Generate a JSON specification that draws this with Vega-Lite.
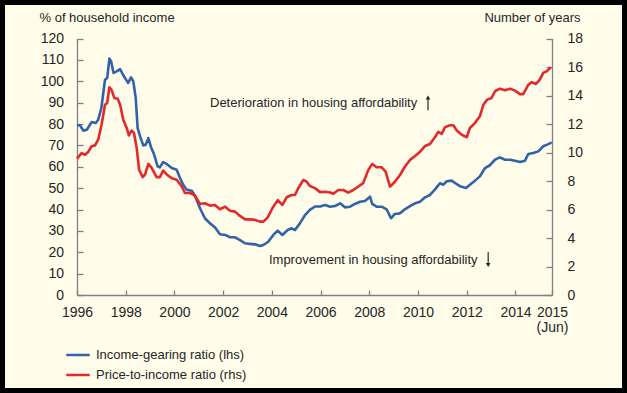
{
  "$schema": "https://vega.github.io/schema/vega-lite/v6.json",
  "width": 627,
  "height": 393,
  "autosize": {"type": "none"},
  "padding": 0,
  "background": "#fffcea",
  "config": {
    "view": {"fill": "#fffcea", "stroke": "#000000", "strokeWidth": 10},
    "font": "Liberation Sans",
    "axis": {
      "grid": false,
      "domainColor": "#808080",
      "tickColor": "#808080",
      "domainWidth": 1.3,
      "tickWidth": 1.3,
      "labelFont": "Liberation Sans",
      "labelFontSize": 14,
      "labelColor": "#262626",
      "titleFont": "Liberation Sans",
      "titleFontSize": 13,
      "titleFontWeight": "normal",
      "titleColor": "#262626"
    },
    "axisY": {"labelOverlap": false}
  },
  "datasets": {
    "d": [
      {"s":"lhs","t":1996.0,"v":79.4},{"s":"lhs","t":1996.12,"v":79.4},{"s":"lhs","t":1996.26,"v":76.9},{"s":"lhs","t":1996.4,"v":77.3},{"s":"lhs","t":1996.6,"v":80.9},{"s":"lhs","t":1996.77,"v":80.5},{"s":"lhs","t":1996.87,"v":82},{"s":"lhs","t":1997.0,"v":87.5},{"s":"lhs","t":1997.15,"v":100.7},{"s":"lhs","t":1997.24,"v":101.5},{"s":"lhs","t":1997.33,"v":110.6},{"s":"lhs","t":1997.4,"v":109.3},{"s":"lhs","t":1997.5,"v":103.9},{"s":"lhs","t":1997.63,"v":104.6},{"s":"lhs","t":1997.77,"v":105.7},{"s":"lhs","t":1997.9,"v":102.8},{"s":"lhs","t":1998.04,"v":100.3},{"s":"lhs","t":1998.1,"v":99.2},{"s":"lhs","t":1998.22,"v":101.8},{"s":"lhs","t":1998.31,"v":100},{"s":"lhs","t":1998.41,"v":92.2},{"s":"lhs","t":1998.49,"v":78.1},{"s":"lhs","t":1998.59,"v":74.2},{"s":"lhs","t":1998.72,"v":70},{"s":"lhs","t":1998.82,"v":70.3},{"s":"lhs","t":1998.93,"v":73.4},{"s":"lhs","t":1999.04,"v":69.1},{"s":"lhs","t":1999.17,"v":65.6},{"s":"lhs","t":1999.31,"v":60.2},{"s":"lhs","t":1999.4,"v":59.7},{"s":"lhs","t":1999.54,"v":62.2},{"s":"lhs","t":1999.68,"v":61.3},{"s":"lhs","t":1999.89,"v":59.4},{"s":"lhs","t":2000.09,"v":58.6},{"s":"lhs","t":2000.23,"v":54.7},{"s":"lhs","t":2000.36,"v":51.6},{"s":"lhs","t":2000.5,"v":49.3},{"s":"lhs","t":2000.71,"v":48.8},{"s":"lhs","t":2000.84,"v":46.5},{"s":"lhs","t":2001.05,"v":40.6},{"s":"lhs","t":2001.25,"v":35.9},{"s":"lhs","t":2001.46,"v":33.5},{"s":"lhs","t":2001.66,"v":31.7},{"s":"lhs","t":2001.87,"v":28.4},{"s":"lhs","t":2002.08,"v":28.1},{"s":"lhs","t":2002.28,"v":27},{"s":"lhs","t":2002.49,"v":27},{"s":"lhs","t":2002.69,"v":25.7},{"s":"lhs","t":2002.9,"v":24.2},{"s":"lhs","t":2003.1,"v":23.9},{"s":"lhs","t":2003.31,"v":23.7},{"s":"lhs","t":2003.51,"v":22.9},{"s":"lhs","t":2003.65,"v":23.4},{"s":"lhs","t":2003.85,"v":24.9},{"s":"lhs","t":2004.06,"v":28.1},{"s":"lhs","t":2004.24,"v":30.1},{"s":"lhs","t":2004.43,"v":28.1},{"s":"lhs","t":2004.65,"v":30.4},{"s":"lhs","t":2004.81,"v":31.2},{"s":"lhs","t":2004.95,"v":30.4},{"s":"lhs","t":2005.15,"v":33.5},{"s":"lhs","t":2005.36,"v":37.4},{"s":"lhs","t":2005.56,"v":39.8},{"s":"lhs","t":2005.77,"v":41.4},{"s":"lhs","t":2005.98,"v":41.4},{"s":"lhs","t":2006.18,"v":42.1},{"s":"lhs","t":2006.39,"v":41.3},{"s":"lhs","t":2006.59,"v":41.6},{"s":"lhs","t":2006.8,"v":42.9},{"s":"lhs","t":2007.0,"v":41},{"s":"lhs","t":2007.21,"v":41.3},{"s":"lhs","t":2007.41,"v":42.6},{"s":"lhs","t":2007.62,"v":43.6},{"s":"lhs","t":2007.82,"v":44},{"s":"lhs","t":2008.03,"v":46},{"s":"lhs","t":2008.12,"v":42.6},{"s":"lhs","t":2008.3,"v":41.3},{"s":"lhs","t":2008.51,"v":41.3},{"s":"lhs","t":2008.71,"v":40.1},{"s":"lhs","t":2008.89,"v":35.9},{"s":"lhs","t":2009.05,"v":37.9},{"s":"lhs","t":2009.26,"v":38.2},{"s":"lhs","t":2009.46,"v":40.1},{"s":"lhs","t":2009.67,"v":41.6},{"s":"lhs","t":2009.88,"v":42.9},{"s":"lhs","t":2010.08,"v":43.6},{"s":"lhs","t":2010.29,"v":45.7},{"s":"lhs","t":2010.49,"v":46.8},{"s":"lhs","t":2010.7,"v":49.4},{"s":"lhs","t":2010.9,"v":52.3},{"s":"lhs","t":2011.04,"v":51.6},{"s":"lhs","t":2011.18,"v":53.2},{"s":"lhs","t":2011.38,"v":53.5},{"s":"lhs","t":2011.52,"v":52.4},{"s":"lhs","t":2011.72,"v":50.9},{"s":"lhs","t":2011.97,"v":50.1},{"s":"lhs","t":2012.13,"v":51.6},{"s":"lhs","t":2012.34,"v":53.5},{"s":"lhs","t":2012.54,"v":55.5},{"s":"lhs","t":2012.75,"v":59.4},{"s":"lhs","t":2012.95,"v":60.7},{"s":"lhs","t":2013.16,"v":63.3},{"s":"lhs","t":2013.36,"v":64.4},{"s":"lhs","t":2013.57,"v":63.3},{"s":"lhs","t":2013.78,"v":63.3},{"s":"lhs","t":2013.98,"v":62.8},{"s":"lhs","t":2014.19,"v":62.2},{"s":"lhs","t":2014.39,"v":62.8},{"s":"lhs","t":2014.53,"v":66},{"s":"lhs","t":2014.73,"v":66.4},{"s":"lhs","t":2014.94,"v":67.2},{"s":"lhs","t":2015.14,"v":69.6},{"s":"lhs","t":2015.35,"v":70.6},{"s":"lhs","t":2015.49,"v":71.4},
      {"s":"rhs","t":1996.0,"v":9.57},{"s":"rhs","t":1996.19,"v":9.96},{"s":"rhs","t":1996.33,"v":9.84},{"s":"rhs","t":1996.46,"v":10.04},{"s":"rhs","t":1996.6,"v":10.44},{"s":"rhs","t":1996.74,"v":10.5},{"s":"rhs","t":1996.87,"v":10.9},{"s":"rhs","t":1997.01,"v":11.96},{"s":"rhs","t":1997.15,"v":13.35},{"s":"rhs","t":1997.24,"v":13.47},{"s":"rhs","t":1997.33,"v":14.58},{"s":"rhs","t":1997.42,"v":14.4},{"s":"rhs","t":1997.53,"v":13.83},{"s":"rhs","t":1997.67,"v":13.77},{"s":"rhs","t":1997.77,"v":13.35},{"s":"rhs","t":1997.9,"v":12.3},{"s":"rhs","t":1998.04,"v":11.72},{"s":"rhs","t":1998.13,"v":11.2},{"s":"rhs","t":1998.24,"v":11.54},{"s":"rhs","t":1998.34,"v":11.37},{"s":"rhs","t":1998.45,"v":10.32},{"s":"rhs","t":1998.55,"v":8.79},{"s":"rhs","t":1998.7,"v":8.27},{"s":"rhs","t":1998.79,"v":8.45},{"s":"rhs","t":1998.93,"v":9.2},{"s":"rhs","t":1999.07,"v":8.91},{"s":"rhs","t":1999.27,"v":8.27},{"s":"rhs","t":1999.4,"v":8.27},{"s":"rhs","t":1999.54,"v":8.73},{"s":"rhs","t":1999.72,"v":8.4},{"s":"rhs","t":1999.89,"v":8.2},{"s":"rhs","t":2000.09,"v":8.09},{"s":"rhs","t":2000.3,"v":7.62},{"s":"rhs","t":2000.43,"v":7.16},{"s":"rhs","t":2000.64,"v":7.16},{"s":"rhs","t":2000.84,"v":6.97},{"s":"rhs","t":2001.05,"v":6.39},{"s":"rhs","t":2001.25,"v":6.44},{"s":"rhs","t":2001.46,"v":6.27},{"s":"rhs","t":2001.66,"v":6.32},{"s":"rhs","t":2001.87,"v":6.02},{"s":"rhs","t":2002.08,"v":6.2},{"s":"rhs","t":2002.28,"v":5.91},{"s":"rhs","t":2002.49,"v":5.85},{"s":"rhs","t":2002.69,"v":5.55},{"s":"rhs","t":2002.9,"v":5.31},{"s":"rhs","t":2003.1,"v":5.31},{"s":"rhs","t":2003.31,"v":5.27},{"s":"rhs","t":2003.51,"v":5.15},{"s":"rhs","t":2003.65,"v":5.15},{"s":"rhs","t":2003.83,"v":5.45},{"s":"rhs","t":2004.02,"v":6.09},{"s":"rhs","t":2004.24,"v":6.66},{"s":"rhs","t":2004.43,"v":6.32},{"s":"rhs","t":2004.61,"v":6.86},{"s":"rhs","t":2004.81,"v":7.02},{"s":"rhs","t":2004.95,"v":7.02},{"s":"rhs","t":2005.08,"v":7.49},{"s":"rhs","t":2005.29,"v":8.07},{"s":"rhs","t":2005.43,"v":7.95},{"s":"rhs","t":2005.56,"v":7.65},{"s":"rhs","t":2005.77,"v":7.5},{"s":"rhs","t":2005.98,"v":7.22},{"s":"rhs","t":2006.18,"v":7.25},{"s":"rhs","t":2006.39,"v":7.19},{"s":"rhs","t":2006.52,"v":7.1},{"s":"rhs","t":2006.73,"v":7.37},{"s":"rhs","t":2006.93,"v":7.37},{"s":"rhs","t":2007.14,"v":7.19},{"s":"rhs","t":2007.34,"v":7.37},{"s":"rhs","t":2007.55,"v":7.61},{"s":"rhs","t":2007.75,"v":7.85},{"s":"rhs","t":2007.96,"v":8.78},{"s":"rhs","t":2008.12,"v":9.2},{"s":"rhs","t":2008.3,"v":8.96},{"s":"rhs","t":2008.51,"v":8.96},{"s":"rhs","t":2008.67,"v":8.66},{"s":"rhs","t":2008.85,"v":7.61},{"s":"rhs","t":2009.05,"v":7.95},{"s":"rhs","t":2009.26,"v":8.42},{"s":"rhs","t":2009.46,"v":9.0},{"s":"rhs","t":2009.67,"v":9.48},{"s":"rhs","t":2009.88,"v":9.75},{"s":"rhs","t":2010.08,"v":10.05},{"s":"rhs","t":2010.29,"v":10.46},{"s":"rhs","t":2010.49,"v":10.6},{"s":"rhs","t":2010.7,"v":11.09},{"s":"rhs","t":2010.83,"v":11.45},{"s":"rhs","t":2010.97,"v":11.3},{"s":"rhs","t":2011.11,"v":11.78},{"s":"rhs","t":2011.31,"v":11.91},{"s":"rhs","t":2011.45,"v":11.91},{"s":"rhs","t":2011.59,"v":11.54},{"s":"rhs","t":2011.79,"v":11.25},{"s":"rhs","t":2012.0,"v":11.07},{"s":"rhs","t":2012.13,"v":11.72},{"s":"rhs","t":2012.34,"v":12.08},{"s":"rhs","t":2012.54,"v":12.54},{"s":"rhs","t":2012.68,"v":13.35},{"s":"rhs","t":2012.84,"v":13.71},{"s":"rhs","t":2013.02,"v":13.83},{"s":"rhs","t":2013.16,"v":14.3},{"s":"rhs","t":2013.36,"v":14.48},{"s":"rhs","t":2013.57,"v":14.37},{"s":"rhs","t":2013.78,"v":14.48},{"s":"rhs","t":2013.98,"v":14.34},{"s":"rhs","t":2014.19,"v":14.1},{"s":"rhs","t":2014.32,"v":14.1},{"s":"rhs","t":2014.53,"v":14.76},{"s":"rhs","t":2014.67,"v":14.94},{"s":"rhs","t":2014.84,"v":14.81},{"s":"rhs","t":2015.0,"v":15.11},{"s":"rhs","t":2015.14,"v":15.59},{"s":"rhs","t":2015.28,"v":15.69},{"s":"rhs","t":2015.45,"v":15.98}
    ]
  },
  "data": {"name": "d"},
  "layer": [
    {
      "transform": [{"filter": "datum.s == 'lhs'"}],
      "mark": {"type": "line", "strokeWidth": 2.6, "strokeJoin": "round"},
      "encoding": {
        "x": {
          "field": "t", "type": "quantitative",
          "scale": {"domain": [1996, 2015.5], "range": [77, 552], "nice": false, "zero": false},
          "axis": {
            "orient": "bottom", "offset": -98, "title": null,
            "values": [1996,1997,1998,1999,2000,2001,2002,2003,2004,2005,2006,2007,2008,2009,2010,2011,2012,2013,2014,2015,2015.5],
            "tickSize": -5, "labelPadding": 15, "format": "d",
            "labelExpr": "datum.value == 2015.5 ? ['2015', '(Jun)'] : ((datum.value % 2 == 0 && datum.value < 2015) ? datum.label : '')",
            "labelFlush": false, "labelOverlap": false, "labelBound": false, "labelLineHeight": 15
          }
        },
        "y": {
          "field": "v", "type": "quantitative",
          "scale": {"domain": [0, 120], "range": [295, 38.5], "nice": false, "zero": false},
          "axis": {
            "orient": "left", "offset": -77,
            "values": [0,10,20,30,40,50,60,70,80,90,100,110,120],
            "tickSize": -6, "labelPadding": 19.5, "labelOverlap": false,
            "title": "% of household income", "titleX": -38, "titleY": 17,
            "titleAngle": 0, "titleAlign": "left", "titleBaseline": "middle"
          }
        },
        "color": {
          "field": "s", "type": "nominal",
          "scale": {"domain": ["lhs", "rhs"], "range": ["#3162ab", "#e4282b"]},
          "legend": {
            "orient": "none", "legendX": 65, "legendY": 342, "title": null,
            "direction": "vertical", "padding": 0,
            "symbolType": "stroke", "symbolSize": 550, "symbolStrokeWidth": 2.5,
            "labelFont": "Liberation Sans", "labelFontSize": 13, "labelColor": "#262626",
            "labelOffset": 5, "rowPadding": -4, "labelLimit": 300,
            "labelExpr": "datum.label == 'lhs' ? 'Income-gearing ratio (lhs)' : 'Price-to-income ratio (rhs)'"
          }
        }
      }
    },
    {
      "layer": [
        {
          "transform": [{"filter": "datum.s == 'rhs'"}],
          "mark": {"type": "line", "strokeWidth": 2.6, "strokeJoin": "round"},
          "encoding": {
            "x": {"field": "t", "type": "quantitative"},
            "y": {
              "field": "v", "type": "quantitative",
              "scale": {"domain": [0, 18], "range": [295, 38.5], "nice": false, "zero": false},
              "axis": {
                "orient": "right", "offset": -75,
                "values": [0,2,4,6,8,10,12,14,16,18],
                "tickSize": -6, "labelPadding": 21, "labelOverlap": false,
                "title": "Number of years", "titleX": 28, "titleY": 17,
                "titleAngle": 0, "titleAlign": "right", "titleBaseline": "middle"
              }
            },
            "color": {"field": "s", "type": "nominal"}
          }
        },
        {
          "data": {"values": [{"label": "Deterioration in housing affordability"}]},
          "mark": {"type": "text", "align": "left", "baseline": "middle", "font": "Liberation Sans", "fontSize": 13, "color": "#262626"},
          "encoding": {
            "x": {"datum": 2001.46, "type": "quantitative"},
            "y": {"datum": 13.5, "type": "quantitative"},
            "text": {"field": "label"}
          }
        },
        {
          "data": {"values": [{"label": "Improvement in housing affordability"}]},
          "mark": {"type": "text", "align": "left", "baseline": "middle", "font": "Liberation Sans", "fontSize": 13, "color": "#262626"},
          "encoding": {
            "x": {"datum": 2003.88, "type": "quantitative"},
            "y": {"datum": 2.43, "type": "quantitative"},
            "text": {"field": "label"}
          }
        },
        {
          "data": {"values": [{"arrow": "up"}]},
          "mark": {"type": "rule", "color": "#262626", "strokeWidth": 1.2},
          "encoding": {
            "x": {"datum": 2010.41, "type": "quantitative"},
            "y": {"datum": 12.97, "type": "quantitative"},
            "y2": {"datum": 13.87}
          }
        },
        {
          "data": {"values": [{"arrow": "up"}]},
          "mark": {"type": "point", "shape": "triangle-up", "filled": true, "size": 22, "color": "#262626", "opacity": 1},
          "encoding": {
            "x": {"datum": 2010.41, "type": "quantitative"},
            "y": {"datum": 13.86, "type": "quantitative"}
          }
        },
        {
          "data": {"values": [{"arrow": "down"}]},
          "mark": {"type": "rule", "color": "#262626", "strokeWidth": 1.2},
          "encoding": {
            "x": {"datum": 2012.88, "type": "quantitative"},
            "y": {"datum": 3.01, "type": "quantitative"},
            "y2": {"datum": 2.1}
          }
        },
        {
          "data": {"values": [{"arrow": "down"}]},
          "mark": {"type": "point", "shape": "triangle-down", "filled": true, "size": 22, "color": "#262626", "opacity": 1},
          "encoding": {
            "x": {"datum": 2012.88, "type": "quantitative"},
            "y": {"datum": 2.11, "type": "quantitative"}
          }
        }
      ]
    }
  ],
  "resolve": {"scale": {"y": "independent"}}
}
